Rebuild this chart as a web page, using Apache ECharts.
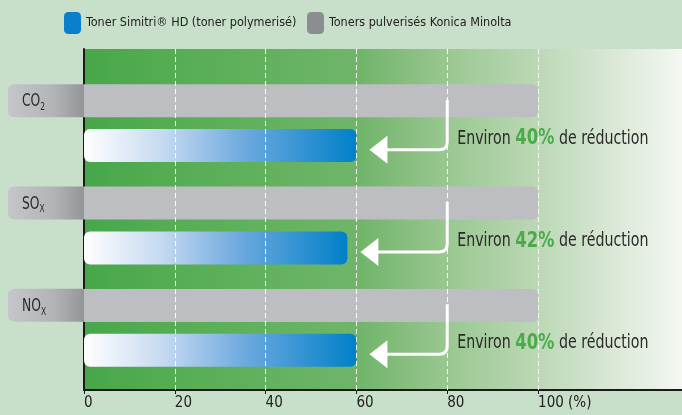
<!DOCTYPE html>
<html><head><meta charset="utf-8">
<script src="https://cdn.jsdelivr.net/npm/echarts@6/dist/echarts.min.js"></script>
<style>html,body{margin:0;padding:0;background:#c8dfca;}#c{width:682px;height:415px;}</style>
</head><body><div id="c"></div>
<script>
var categories = ['CO2', 'SOx', 'NOx'];
var labelMain = ['CO', 'SO', 'NO'];
var labelSub = ['2', 'X', 'X'];
var pulverisedValues = [100, 100, 100];
var simitriValues = [60, 58, 60];
var reductionPct = [40, 42, 40];
var tickValues = [0, 20, 40, 60, 80, 100];
var gridValues = [20, 40, 60, 80, 100];
var seriesNames = ['Toner Simitri® HD (toner polymerisé)', 'Toners pulverisés Konica Minolta'];

var FONT = "'DejaVu Sans Condensed', 'Liberation Sans Narrow', 'Liberation Sans', sans-serif";
var XMAX = 131.7;
var ARROW_AT = 80;
var BAR_W = 33;
var BAR_OFF = 22.5;

var chart = echarts.init(document.getElementById('c'), null, {renderer: 'canvas'});
var G = echarts.graphic;

var arrowData = categories.map(function (c, i) { return [ARROW_AT, i, simitriValues[i], reductionPct[i]]; });

var legendText = {fontFamily: FONT, fontSize: 12.5, color: '#222'};
var option = {
  backgroundColor: '#c8dfca',
  animation: false,
  textStyle: {fontFamily: FONT},
  legend: [
    {left: 64, top: 12, padding: 0, itemWidth: 17, itemHeight: 22, icon: 'roundRect', itemGap: 4, textStyle: legendText,
      data: [{name: seriesNames[0], itemStyle: {color: '#0a80cc'}}]},
    {left: 307, top: 12, padding: 0, itemWidth: 17, itemHeight: 22, icon: 'roundRect', itemGap: 4, textStyle: legendText,
      data: [{name: seriesNames[1], itemStyle: {color: '#8c8d91'}}]}
  ],
  grid: [
    {left: 84, right: 0, top: 49, bottom: 25, show: true, borderWidth: 0,
      backgroundColor: new G.LinearGradient(0, 0, 1, 0, [
        {offset: 0, color: '#47a74a'}, {offset: 0.15, color: '#56ad54'},
        {offset: 0.3, color: '#62b15e'}, {offset: 0.46, color: '#70b56a'},
        {offset: 0.54, color: '#88be7f'}, {offset: 0.61, color: '#9ac891'},
        {offset: 0.76, color: '#bcd8b6'}, {offset: 0.88, color: '#d9e7d5'},
        {offset: 1, color: '#f3f7f1'}])},
    {left: 84, right: 0, top: 72, bottom: 36}
  ],
  xAxis: [
    {gridIndex: 0, type: 'value', min: 0, max: XMAX,
      axisLine: {show: true, onZero: false, lineStyle: {color: '#1a1a1a', width: 2}},
      axisTick: {show: true, customValues: tickValues, length: 4, lineStyle: {color: '#1a1a1a'}},
      axisLabel: {customValues: tickValues, align: 'left', margin: 6, fontSize: 15, color: '#222', fontFamily: FONT,
        formatter: function (v) { return v === 100 ? '100 (%)' : String(v); }},
      splitLine: {show: false}},
    {gridIndex: 1, type: 'value', min: 0, max: XMAX, show: false}
  ],
  yAxis: [
    {gridIndex: 0, type: 'value', min: 0, max: 1,
      axisLine: {show: true, lineStyle: {color: '#1a1a1a', width: 2}},
      axisTick: {show: false}, axisLabel: {show: false}, splitLine: {show: false}},
    {gridIndex: 1, type: 'category', data: categories, inverse: true, show: false}
  ],
  series: [
    {type: 'scatter', xAxisIndex: 0, yAxisIndex: 0, data: [], silent: true,
      markLine: {silent: true, symbol: ['none', 'none'], label: {show: false},
        lineStyle: {color: '#ffffff', type: [5, 3], width: 1},
        data: gridValues.map(function (v) { return {xAxis: v}; })}},
    {name: seriesNames[1], type: 'bar', xAxisIndex: 1, yAxisIndex: 1, data: pulverisedValues,
      barWidth: BAR_W, barGap: '36%', z: 3,
      itemStyle: {color: '#bdbec2', borderRadius: [0, 6, 6, 0]}},
    {name: seriesNames[0], type: 'bar', xAxisIndex: 1, yAxisIndex: 1, data: simitriValues,
      barWidth: BAR_W, z: 3,
      itemStyle: {borderRadius: 6,
        color: new G.LinearGradient(0, 0, 1, 0, [
          {offset: 0, color: '#ffffff'}, {offset: 0.3, color: '#c3d8f0'},
          {offset: 0.6, color: '#6aa8de'}, {offset: 1, color: '#0080c8'}])}},
    {type: 'custom', xAxisIndex: 1, yAxisIndex: 1, data: arrowData, z: 5, silent: true, clip: false,
      renderItem: function (params, api) {
        var i = api.value(1);
        var p = api.coord([api.value(0), i]);
        var x0 = api.coord([0, i])[0];
        var tip = api.coord([api.value(2), i])[0] + 13;
        var x = p[0];
        var yg = p[1] - BAR_OFF;
        var yh = p[1] + BAR_OFF + 4;
        var r = 8;
        return {type: 'group', children: [
          {type: 'rect', shape: {x: x0 - 76, y: yg - BAR_W / 2, width: 76, height: BAR_W, r: [6, 0, 0, 6]},
            style: {fill: new G.LinearGradient(0, 0, 1, 0, [
              {offset: 0, color: '#c5c6c9'}, {offset: 0.6, color: '#b3b4b7'}, {offset: 1, color: '#949599'}])}},
          {type: 'text', x: x0 - 62, y: yg + 1, scaleX: 0.76,
            style: {text: '{m|' + labelMain[i] + '}{s|' + labelSub[i] + '}', verticalAlign: 'middle', align: 'left',
              rich: {m: {fontFamily: FONT, fontSize: 18, lineHeight: 22, fill: '#2a2a2a'},
                     s: {fontFamily: FONT, fontSize: 11, lineHeight: 10, verticalAlign: 'bottom', fill: '#2a2a2a'}}}},
          {type: 'path', shape: {pathData: 'M' + x + ' ' + (yg - 1) + ' L' + x + ' ' + (yh - r) + ' Q' + x + ' ' + yh + ' ' + (x - r) + ' ' + yh + ' L' + (tip + 16) + ' ' + yh},
            style: {stroke: '#ffffff', lineWidth: 3, fill: null}},
          {type: 'polygon', shape: {points: [[tip, yh], [tip + 18, yh - 14], [tip + 18, yh + 14]]},
            style: {fill: '#ffffff'}},
          {type: 'text', x: x + 10, y: yh - 11, scaleX: 0.83,
            style: {text: '{a|Environ }{b|' + api.value(3) + '%}{a| de réduction}', verticalAlign: 'middle', align: 'left',
              rich: {a: {fontFamily: FONT, fontSize: 19, fill: '#2a2a2a'},
                     b: {fontFamily: FONT, fontSize: 22, fontWeight: 'bold', fill: '#4aab4a'}}}}
        ]};
      }}
  ]
};
chart.setOption(option);
</script>
</body></html>
